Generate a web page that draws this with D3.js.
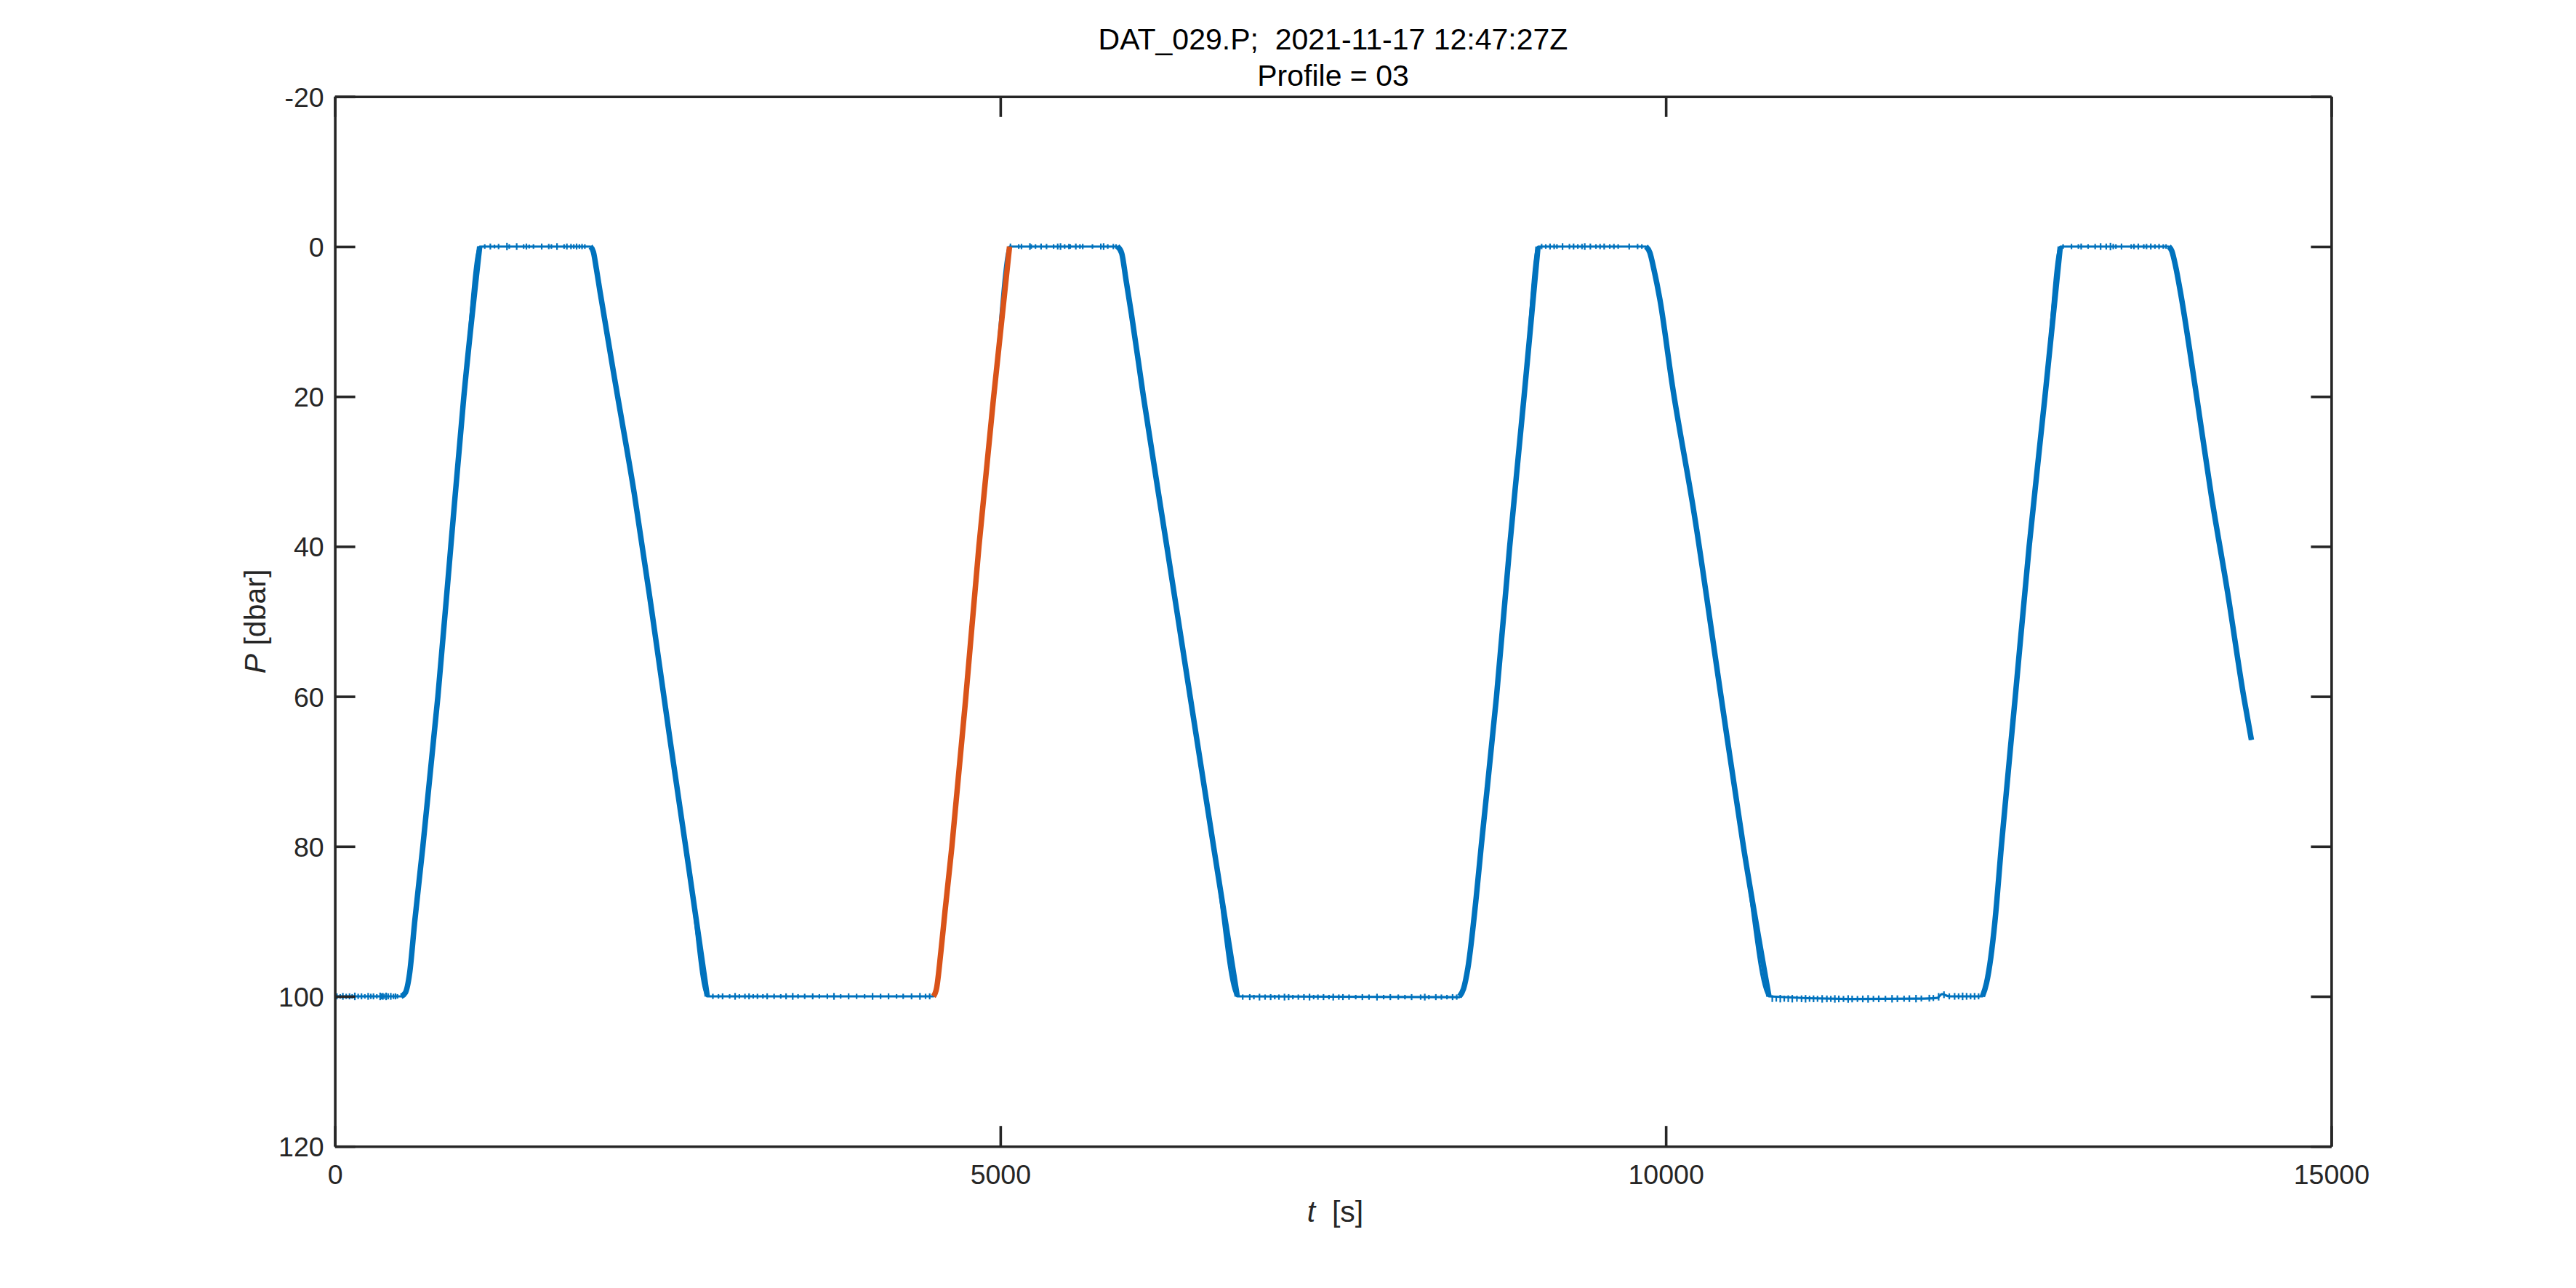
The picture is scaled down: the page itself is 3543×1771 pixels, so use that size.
<!DOCTYPE html>
<html>
<head>
<meta charset="utf-8">
<script src="https://cdn.jsdelivr.net/npm/d3@7"></script>
<style>
  body { margin: 0; background: #fff; }
  text { font-family: "Liberation Sans", Arial, Helvetica, sans-serif; white-space: pre; }
</style>
</head>
<body>
<div id="chart"></div>
<script>
const width = 3543;
const height = 1771;
const margin = { left: 460.6, right: 3543 - 3206.4, top: 132.8, bottom: 1771 - 1576.2 };
const blue = "#0072BD";
const orange = "#D95319";
const axisColor = "#262626";

const titleLines = ["DAT_029.P;  2021-11-17 12:47:27Z", "Profile = 03"];
const xTicks = [0, 5000, 10000, 15000];
const yTicks = [-20, 0, 20, 40, 60, 80, 100, 120];

// segments of the record, time [s] and pressure [dbar]
const bottom0T = [0, 498];
const bottom0P = [100, 100];
const rise1T = [498, 530, 561, 600, 661, 774, 871, 969, 1088];
const rise1P = [100, 99.5, 97, 90, 80, 60, 40, 20, 0];
const top1T = [1088, 1920];
const top1P = [0, 0];
const descent1T = [1920, 1942, 1965, 1992, 2110, 2250, 2380, 2520, 2660, 2798];
const descent1P = [0, 0.7, 3, 6, 18.5, 33, 48.5, 66, 83, 100];
const bottom1T = [2798, 4497];
const bottom1P = [100, 100];
const rise2T = [4497, 4521, 4553, 4584, 4636, 4741, 4839, 4950, 5069];
const rise2P = [100, 98.9, 94.1, 88.7, 80, 60, 40, 20, 0];
const top2T = [5069, 5880];
const top2P = [0, 0];
const descent2T = [5880, 5912, 5943, 5985, 6075, 6251, 6426, 6602, 6780];
const descent2P = [0, 0.9, 4.3, 9, 20, 40, 60, 80, 100];
const bottom2T = [6780, 8450];
const bottom2P = [100.1, 100.1];
const rise3T = [8450, 8480, 8513, 8576, 8613, 8728, 8827, 8935, 9040];
const rise3P = [100, 99, 96.2, 86.7, 80, 60, 40, 20, 0];
const top3T = [9040, 9851];
const top3P = [0, 0];
const descent3T = [9851, 9880, 9910, 9955, 10049, 10212, 10415, 10583, 10775];
const descent3P = [0, 0.8, 3, 7, 18.5, 35.5, 60, 80, 100];
const bottom3T = [10775, 11400, 11900, 12040, 12075, 12130, 12379];
const bottom3P = [100.3, 100.35, 100.3, 100.2, 99.7, 100.0, 100.0];
const rise4T = [12379, 12410, 12442, 12473, 12521, 12626, 12730, 12849, 12964];
const rise4P = [100, 98.2, 94.8, 90, 80, 60, 40, 20, 0];
const top4T = [12964, 13780];
const top4P = [0, 0];
const descent4T = [13780, 13802, 13830, 13863, 13980, 14097, 14220, 14342, 14400];
const descent4P = [0, 0.6, 2.6, 5.7, 19, 33, 46, 60, 65.8];

// noise spikes on the surface parks (around 0 dbar)
const topSpikeT = [1126, 1168, 1199, 1230, 1293, 1310, 1366, 1418, 1439, 1460, 1492, 1554, 1607, 1627, 1669, 1722, 1743, 1774, 1795, 1816, 1837, 1857, 1878,
  5076, 5138, 5159, 5222, 5232, 5264, 5306, 5347, 5400, 5431, 5452, 5483, 5515, 5525, 5567, 5598, 5619, 5692, 5755, 5776, 5807, 5849, 5870,
  9067, 9098, 9130, 9161, 9182, 9224, 9276, 9307, 9339, 9370, 9391, 9433, 9475, 9506, 9537, 9579, 9610, 9642, 9725, 9788, 9820,
  12985, 13048, 13100, 13121, 13173, 13226, 13267, 13309, 13341, 13362, 13382, 13424, 13497, 13518, 13550, 13591, 13612, 13644, 13675, 13706, 13738, 13759];
const topSpikeA = [0.3, 0.4, 0.25, 0.35, 0.5, 0.3, 0.45, 0.3, 0.4, 0.25, 0.3, 0.4, 0.35, 0.3, 0.45, 0.3, 0.4, 0.35, 0.3, 0.4, 0.3, 0.35, 0.3,
  0.4, 0.3, 0.35, 0.45, 0.3, 0.3, 0.4, 0.35, 0.3, 0.4, 0.45, 0.3, 0.35, 0.3, 0.4, 0.3, 0.35, 0.3, 0.4, 0.45, 0.3, 0.35, 0.3,
  0.35, 0.3, 0.4, 0.35, 0.3, 0.45, 0.35, 0.4, 0.3, 0.35, 0.45, 0.4, 0.3, 0.35, 0.4, 0.3, 0.35, 0.3, 0.4, 0.35, 0.3,
  0.3, 0.35, 0.3, 0.4, 0.3, 0.35, 0.45, 0.4, 0.5, 0.35, 0.3, 0.4, 0.3, 0.35, 0.4, 0.3, 0.35, 0.4, 0.3, 0.35, 0.3, 0.3];

// noise spikes on the 100 dbar parks
const bottomSpikeT = [15, 40, 60, 85, 110, 130, 150, 175, 200, 225, 250, 270, 290, 315, 340, 350, 360, 370, 385, 400, 420, 440, 455, 470,
  2840, 2882, 2913, 2966, 3007, 3039, 3081, 3112, 3143, 3175, 3216, 3248, 3300, 3350, 3390, 3440, 3480, 3530, 3590, 3640, 3700, 3750,
  3800, 3860, 3920, 3980, 4040, 4100, 4160, 4220, 4270, 4333, 4396, 4438, 4469,
  6821, 6874, 6905, 6947, 6989, 7031, 7062, 7093, 7135, 7166, 7198, 7239, 7281, 7323, 7354, 7386, 7428, 7469, 7501, 7543, 7574,
  7620, 7670, 7720, 7770, 7830, 7880, 7930, 7990, 8040, 8090, 8158, 8189, 8220, 8272, 8314, 8356, 8398, 8429,
  10800, 10830, 10860, 10890, 10920, 10950, 10985, 11020, 11050, 11080, 11110, 11140, 11175, 11210, 11240, 11270, 11300, 11335, 11370, 11400,
  11440, 11480, 11520, 11560, 11600, 11650, 11700, 11740, 11790, 11830, 11880, 11920, 11980, 12010, 12050, 12090, 12130, 12170, 12200, 12230,
  12260, 12290, 12320, 12350];
const bottomSpikeA = [0.4, 0.3, 0.45, 0.35, 0.4, 0.3, 0.5, 0.35, 0.4, 0.3, 0.45, 0.35, 0.4, 0.3, 0.5, 0.4, 0.45, 0.35, 0.5, 0.4, 0.45, 0.35, 0.4, 0.3,
  0.35, 0.3, 0.4, 0.3, 0.45, 0.3, 0.35, 0.4, 0.3, 0.35, 0.3, 0.4, 0.35, 0.3, 0.4, 0.45, 0.3, 0.35, 0.4, 0.3, 0.35, 0.45,
  0.3, 0.4, 0.35, 0.3, 0.45, 0.35, 0.4, 0.3, 0.35, 0.4, 0.45, 0.35, 0.4,
  0.35, 0.4, 0.3, 0.45, 0.35, 0.4, 0.3, 0.35, 0.45, 0.4, 0.3, 0.35, 0.4, 0.45, 0.3, 0.35, 0.4, 0.3, 0.45, 0.35, 0.4,
  0.35, 0.3, 0.4, 0.35, 0.45, 0.3, 0.4, 0.35, 0.3, 0.4, 0.35, 0.45, 0.3, 0.4, 0.35, 0.3, 0.4, 0.35,
  0.45, 0.4, 0.5, 0.4, 0.45, 0.5, 0.4, 0.45, 0.5, 0.4, 0.45, 0.4, 0.5, 0.45, 0.4, 0.5, 0.45, 0.4, 0.5, 0.45,
  0.4, 0.45, 0.5, 0.4, 0.45, 0.4, 0.5, 0.45, 0.4, 0.45, 0.5, 0.4, 0.45, 0.4, 0.5, 0.45, 0.4, 0.45, 0.4, 0.5,
  0.45, 0.4, 0.45, 0.4];

const segments = [
  { t: bottom0T, p: bottom0P, ramp: false },
  { t: rise1T, p: rise1P, ramp: true },
  { t: top1T, p: top1P, ramp: false },
  { t: descent1T, p: descent1P, ramp: true },
  { t: bottom1T, p: bottom1P, ramp: false },
  { t: rise2T, p: rise2P, ramp: true, profile: true },
  { t: top2T, p: top2P, ramp: false },
  { t: descent2T, p: descent2P, ramp: true },
  { t: bottom2T, p: bottom2P, ramp: false },
  { t: rise3T, p: rise3P, ramp: true },
  { t: top3T, p: top3P, ramp: false },
  { t: descent3T, p: descent3P, ramp: true },
  { t: bottom3T, p: bottom3P, ramp: false },
  { t: rise4T, p: rise4P, ramp: true },
  { t: top4T, p: top4P, ramp: false },
  { t: descent4T, p: descent4P, ramp: true }
];

const svg = d3.select("#chart").append("svg")
  .attr("width", width)
  .attr("height", height);

const x = d3.scaleLinear().domain([0, 15000]).range([margin.left, width - margin.right]);
const y = d3.scaleLinear().domain([-20, 120]).range([margin.top, height - margin.bottom]);

const pts = (s) => s.t.map((t, i) => [t, s.p[i]]);
const line = d3.line().x(d => x(d[0])).y(d => y(d[1])).curve(d3.curveMonotoneX);

// whole record without repeated joint points
const record = segments.flatMap(pts).filter((d, i, a) => i === 0 || d[0] !== a[i - 1][0]);

// base level of the park that holds a given time
function parkLevel(t) {
  const s = segments.find(s => !s.ramp && t >= s.t[0] && t <= s.t[s.t.length - 1]);
  if (!s) return 100;
  for (let i = 1; i < s.t.length; i++) {
    if (t <= s.t[i]) return s.p[i - 1] + (s.p[i] - s.p[i - 1]) * (t - s.t[i - 1]) / (s.t[i] - s.t[i - 1]);
  }
  return s.p[s.p.length - 1];
}

const data = svg.append("g");

// the whole record, thin
data.append("path")
  .attr("d", line(record))
  .attr("fill", "none")
  .attr("stroke", blue)
  .attr("stroke-width", 3.2)
  .attr("stroke-linejoin", "round");

// spikes
data.append("g").selectAll("line")
  .data(topSpikeT.map((t, i) => [t, topSpikeA[i]]))
  .join("line")
  .attr("x1", d => x(d[0])).attr("x2", d => x(d[0]))
  .attr("y1", d => y(-d[1])).attr("y2", d => y(d[1]))
  .attr("stroke", blue).attr("stroke-width", 2.2);

data.append("g").selectAll("line")
  .data(bottomSpikeT.map((t, i) => [t, bottomSpikeA[i]]))
  .join("line")
  .attr("x1", d => x(d[0])).attr("x2", d => x(d[0]))
  .attr("y1", d => y(parkLevel(d[0]) - d[1])).attr("y2", d => y(parkLevel(d[0]) + d[1]))
  .attr("stroke", blue).attr("stroke-width", 2.2);

// profiles, thick
data.append("g").selectAll("path")
  .data(segments.filter(s => s.ramp))
  .join("path")
  .attr("d", s => line(pts(s)))
  .attr("fill", "none")
  .attr("stroke", s => s.profile ? orange : blue)
  .attr("stroke-width", 7.5)
  .attr("stroke-linejoin", "round");

// axes, ticks inward on all sides
const tickLen = 28;
const fmt = d => String(d);

const gx = svg.append("g")
  .attr("transform", `translate(0,${height - margin.bottom})`)
  .call(d3.axisBottom(x).tickValues(xTicks).tickFormat(fmt).tickSizeInner(-tickLen).tickSizeOuter(0).tickPadding(25));
const gxt = svg.append("g")
  .attr("transform", `translate(0,${margin.top})`)
  .call(d3.axisTop(x).tickValues(xTicks).tickFormat("").tickSizeInner(-tickLen).tickSizeOuter(0));
const gy = svg.append("g")
  .attr("transform", `translate(${margin.left},0)`)
  .call(d3.axisLeft(y).tickValues(yTicks).tickFormat(fmt).tickSizeInner(-tickLen).tickSizeOuter(0).tickPadding(15));
const gyr = svg.append("g")
  .attr("transform", `translate(${width - margin.right},0)`)
  .call(d3.axisRight(y).tickValues(yTicks).tickFormat("").tickSizeInner(-tickLen).tickSizeOuter(0));

[gx, gxt, gy, gyr].forEach(g => {
  g.selectAll(".domain").attr("stroke", axisColor).attr("stroke-width", 3.6);
  g.selectAll(".tick line").attr("stroke", axisColor).attr("stroke-width", 3.6);
  g.selectAll(".tick text")
    .attr("fill", axisColor)
    .attr("font-size", 37.5)
    .attr("font-family", "Liberation Sans, Arial, sans-serif");
});
gy.selectAll(".tick text").attr("dy", "0.36em");

// title
const cx = (margin.left + width - margin.right) / 2;
svg.append("g").selectAll("text")
  .data(titleLines)
  .join("text")
  .attr("x", cx)
  .attr("y", (d, i) => 68 + i * 50)
  .attr("text-anchor", "middle")
  .attr("font-size", 41)
  .attr("fill", "#000")
  .text(d => d);

// x label
const xl = svg.append("text")
  .attr("x", cx + 3)
  .attr("y", 1680)
  .attr("text-anchor", "middle")
  .attr("font-size", 41)
  .attr("fill", axisColor);
xl.append("tspan").attr("font-style", "italic").text("t");
xl.append("tspan").text("  [s]");

// y label
const yl = svg.append("text")
  .attr("transform", `translate(365,${(margin.top + height - margin.bottom) / 2}) rotate(-90)`)
  .attr("text-anchor", "middle")
  .attr("font-size", 41)
  .attr("fill", axisColor);
yl.append("tspan").attr("font-style", "italic").text("P");
yl.append("tspan").text(" [dbar]");
</script>
</body>
</html>
